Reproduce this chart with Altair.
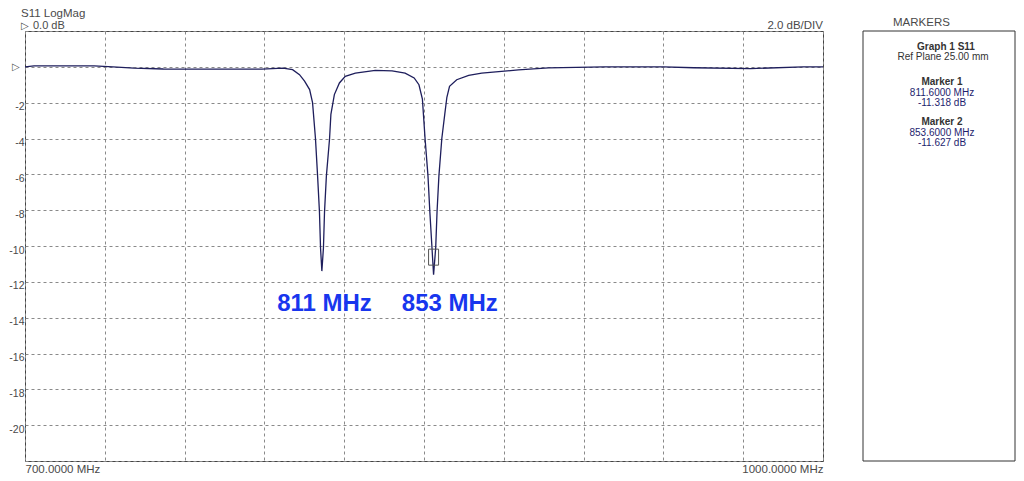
import altair as alt
import pandas as pd

# S11 trace
freq_mhz = [700.0, 703.4, 726.0, 733.0, 741.0, 752.0, 767.0, 782.0, 789.0, 797.0,
            800.6, 803.2, 805.1, 807.0, 808.1, 809.2, 810.0, 810.7, 811.1, 811.6,
            812.2, 812.6, 813.3, 814.5, 815.0, 816.3, 818.2, 820.4, 824.2, 831.7,
            838.0, 842.9, 846.3, 848.1, 849.4, 850.4, 851.5, 852.2, 853.0, 853.6,
            854.4, 854.9, 855.6, 856.7, 857.8, 858.6, 859.6, 862.3, 866.8, 871.7,
            885.5, 896.8, 917.7, 940.1, 951.4, 972.7, 992.5, 1000.0]
s11_db = [0.0, 0.05, 0.05, 0.0, -0.07, -0.12, -0.13, -0.13, -0.13, -0.07,
          -0.16, -0.44, -0.8, -1.27, -2.0, -4.0, -6.1, -8.1, -10.1, -11.4,
          -10.1, -8.1, -6.1, -4.0, -2.65, -1.55, -0.9, -0.53, -0.35, -0.2,
          -0.22, -0.35, -0.62, -1.0, -1.8, -4.0, -6.1, -8.1, -10.1, -11.6,
          -10.1, -8.1, -6.1, -4.0, -2.65, -1.7, -1.09, -0.72, -0.48, -0.35,
          -0.17, -0.06, 0.0, 0.0, -0.05, -0.1, 0.0, 0.0]

marker_names = ["Marker  1", "Marker  2"]
marker_freq = [811.6, 853.6]
marker_db = [-11.318, -11.627]

note_labels = ["811 MHz", "853 MHz"]
note_freq = [812.6, 859.7]
note_db = [-13.6, -13.6]

x_grid = list(range(700, 1001, 30))
y_grid = list(range(-22, 3, 2))

FONT = "Liberation Sans"
GREY = "#4a4a4a"
NAVY = "#1e1e5c"
W, H = 798, 430

trace = pd.DataFrame({"f": freq_mhz, "db": s11_db})
markers = pd.DataFrame({"f": marker_freq, "db": marker_db})
notes = pd.DataFrame({"f": note_freq, "db": note_db, "t": note_labels})
one = pd.DataFrame({"f": [700.0], "db": [0.0]})

x_scale = alt.Scale(domain=[700, 1000], nice=False, zero=False)
y_scale = alt.Scale(domain=[-22, 2], nice=False, zero=False)

x_axis = alt.Axis(values=x_grid, grid=True, gridDash=[3, 3], gridColor="#8a8a8a",
                  gridOpacity=1, ticks=False, domain=False, title=None,
                  labelExpr="datum.value == 700 ? '700.0000 MHz' : (datum.value == 1000 ? '1000.0000 MHz' : '')",
                  labelFlush=True, labelOverlap=False, labelFont=FONT, labelFontSize=11.5,
                  labelColor=GREY, labelPadding=2, labelBaseline="top")
y_axis = alt.Axis(values=y_grid, grid=True, gridDash=[3, 3], gridColor="#8a8a8a",
                  gridOpacity=1, ticks=False, domain=False, title=None,
                  labelExpr="datum.value <= -2 && datum.value >= -20 ? '-' + abs(datum.value) : ''",
                  labelAlign="right", labelPadding=1, labelBaseline="top", labelOffset=-1,
                  labelOverlap=False, labelFont=FONT, labelFontSize=10.5, labelColor=GREY)

X = alt.X("f:Q", scale=x_scale, axis=x_axis)
Y = alt.Y("db:Q", scale=y_scale, axis=y_axis)

line = alt.Chart(trace).mark_line(color=NAVY, strokeWidth=1.3, clip=True).encode(x=X, y=Y)

marker_box = alt.Chart(markers.iloc[[1]]).mark_point(
    shape="M-0.625,-1H0.625V1H-0.625Z", size=256, filled=False,
    color="#555555", strokeWidth=1, yOffset=-18, opacity=1
).encode(x=X, y=Y)

note_text = alt.Chart(notes).mark_text(
    font=FONT, fontSize=24, fontWeight="bold", color="#1836ee", align="center",
    baseline="alphabetic"
).encode(x=X, y=Y, text="t:N")

ref_tri = alt.Chart(one).mark_text(
    text="▷", font="DejaVu Sans", fontSize=10, color="#555555", align="left", baseline="middle", dx=-13
).encode(x=X, y=Y)


def label(txt, x, y, size=11.5, weight="normal", color=GREY, align="left", font=FONT):
    return alt.Chart(pd.DataFrame({"t": [txt]})).mark_text(
        font=font, fontSize=size, fontWeight=weight, color=color, align=align,
        baseline="alphabetic"
    ).encode(text="t:N", x=alt.value(x), y=alt.value(y))


panel = alt.Chart(pd.DataFrame({"t": ["MARKERS"]})).mark_rect(
    fill="white", stroke="#333333", strokeWidth=1
).encode(x=alt.value(838), x2=alt.value(990), y=alt.value(0), y2=alt.value(H))

PC = 917
layers = [line, marker_box, note_text, ref_tri, panel,
          label("S11 LogMag", -4, -14, size=11.5),
          label("▷", -4, -2.5, size=10, font="DejaVu Sans"),
          label("0.0 dB", 8, -2.5, size=11),
          label("2.0 dB/DIV", W, -2.5, size=11.5, align="right"),
          label("MARKERS", 868, -5, size=11.5),
          label("Graph 1 S11", PC + 4, 19, size=10, weight="bold", color="#333333", align="center"),
          label("Ref Plane 25.00 mm", PC + 1, 29, size=10, color="#333333", align="center")]

base_y = [54, 94]
for i in range(len(marker_names)):
    layers.append(label(marker_names[i], PC, base_y[i], size=10, weight="bold", color="#333333", align="center"))
    layers.append(label(f"{marker_freq[i]:.4f} MHz", PC, base_y[i] + 11, size=10, color="#1e1e6e", align="center"))
    layers.append(label(f"{marker_db[i]:.3f} dB", PC, base_y[i] + 21, size=10, color="#1e1e6e", align="center"))

chart = alt.layer(*layers).properties(
    width=W, height=H,
    padding={"left": 17, "top": 23, "right": 193, "bottom": 12},
    autosize=alt.AutoSizeParams(type="none"),
    background="white",
).configure_view(stroke="#444444", strokeWidth=1).configure_axis(labelOverlap=False)

chart.save("out.html", embed_options={"renderer": "svg", "actions": False})
